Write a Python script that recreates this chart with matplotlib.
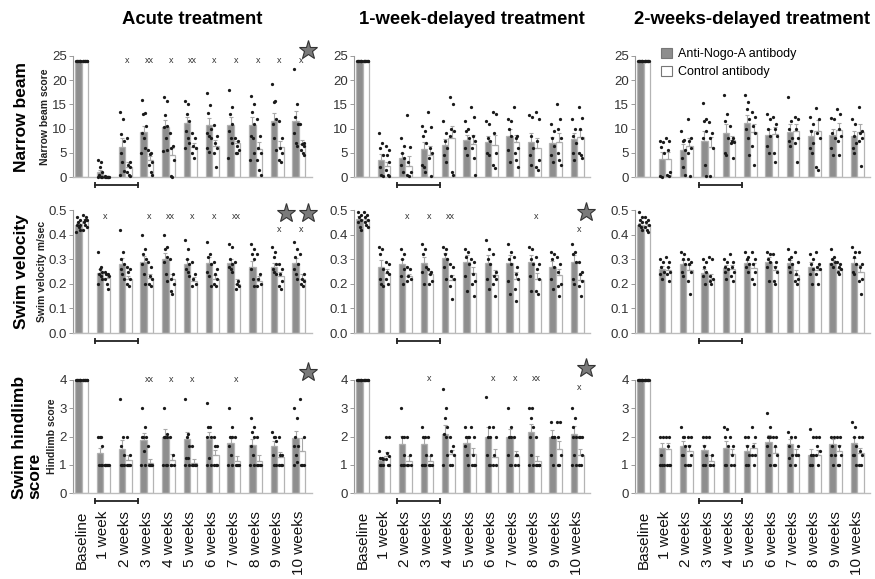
import matplotlib
matplotlib.use('Agg')
import matplotlib.pyplot as plt
import numpy as np
from matplotlib.patches import Patch
import matplotlib.transforms as mtrans

plt.rcParams['font.family'] = ['Liberation Sans', 'DejaVu Sans']

# ---------------- data ----------------
groups = ["Baseline", "1 week", "2 weeks", "3 weeks", "4 weeks", "5 weeks",
          "6 weeks", "7 weeks", "8 weeks", "9 weeks", "10 weeks"]
treatments = ["Acute treatment", "1-week-delayed treatment", "2-weeks-delayed treatment"]
row_titles = ["Narrow beam", "Swim velocity", "Swim hindlimb\nscore"]
row_ylabels = ["Narrow beam score", "Swim velocity m/sec", "Hindlimb score"]
legend_labels = ["Anti-Nogo-A antibody", "Control antibody"]

# Narrow beam (bar means)
beam_acute_anti = [24, 1.0, 6.3, 9.2, 10.3, 11.1, 10.8, 10.8, 10.8, 11.5, 11.6]
beam_acute_ctrl = [24, 0.2, 2.0, 3.5, 4.5, 6.2, 6.4, 7.0, 5.8, 6.2, 6.8]
beam_w1_anti = [24, 3.5, 3.9, 5.8, 6.6, 7.6, 7.2, 8.5, 7.3, 7.0, 7.9]
beam_w1_ctrl = [24, 2.2, 2.3, 4.5, 8.1, 6.8, 6.6, 7.2, 6.0, 7.3, 8.2]
beam_w2_anti = [24, 3.8, 5.5, 7.4, 9.0, 11.2, 8.7, 9.4, 8.4, 8.6, 8.4]
beam_w2_ctrl = [24, 3.7, 6.5, 6.3, 7.6, 9.2, 8.9, 9.6, 9.6, 9.8, 9.3]

# Swim velocity (bar means)
vel_acute_anti = [0.44, 0.245, 0.28, 0.29, 0.30, 0.28, 0.285, 0.285, 0.27, 0.27, 0.285]
vel_acute_ctrl = [0.455, 0.225, 0.22, 0.225, 0.22, 0.21, 0.22, 0.20, 0.21, 0.23, 0.22]
vel_w1_anti = [0.465, 0.27, 0.28, 0.285, 0.305, 0.29, 0.285, 0.285, 0.29, 0.27, 0.29]
vel_w1_ctrl = [0.455, 0.245, 0.23, 0.24, 0.215, 0.245, 0.235, 0.22, 0.22, 0.235, 0.215]
vel_w2_anti = [0.44, 0.26, 0.28, 0.245, 0.265, 0.285, 0.29, 0.285, 0.27, 0.285, 0.285]
vel_w2_ctrl = [0.435, 0.255, 0.255, 0.22, 0.26, 0.265, 0.255, 0.235, 0.255, 0.255, 0.25]

# Swim hindlimb score (bar means)
hind_acute_anti = [4, 1.42, 1.55, 1.87, 2.0, 1.9, 1.9, 1.78, 1.7, 1.67, 1.95]
hind_acute_ctrl = [4, 1.0, 1.17, 1.07, 1.17, 1.07, 1.35, 1.12, 1.13, 1.28, 1.48]
hind_w1_anti = [4, 1.17, 1.72, 1.72, 2.1, 1.77, 2.0, 2.0, 2.15, 2.0, 2.1]
hind_w1_ctrl = [4, 1.3, 1.12, 1.12, 1.37, 1.37, 1.27, 1.3, 1.12, 1.55, 1.35]
hind_w2_anti = [4, 1.58, 1.67, 1.52, 1.6, 1.5, 1.82, 1.72, 1.35, 1.75, 1.78]
hind_w2_ctrl = [4, 1.55, 1.5, 1.15, 1.37, 1.58, 1.43, 1.37, 1.35, 1.5, 1.42]

# individual animals (dots), one list per bar
beam_acute_anti_dots = [[24]*8, [3.5, 3.0, 2.0, 1.0, 0.5, 0, 0, 0],
    [13.4, 12.0, 8.8, 7.5, 5.0, 3.0, 1.2, 0.5], [15.9, 13.3, 13.0, 10.5, 9.0, 8.0, 6.0, 5.0],
    [16.6, 15.6, 12.8, 10.5, 10.3, 8.0, 5.5, 5.4], [15.6, 15.0, 13.0, 11.5, 9.5, 8.0, 7.0, 6.0],
    [17.3, 14.8, 13.3, 10.0, 9.0, 8.5, 8.0, 6.0, 5.2], [18.0, 14.5, 13.0, 11.0, 9.5, 8.0, 7.0, 4.0],
    [16.8, 15.0, 13.5, 11.0, 8.5, 8.0, 5.0, 3.5], [19.3, 15.6, 15.5, 12.0, 11.0, 8.0, 5.5],
    [22.3, 15.0, 12.5, 11.0, 9.0, 7.0, 6.5]]
beam_acute_ctrl_dots = [[24]*8, [0.1, 0, 0, 0, 0.2, 0, 0],
    [8.1, 3.0, 2.5, 2.0, 1.0, 0.5, 0.2], [5.5, 5.0, 4.8, 3.0, 2.5, 1.0, 0.5],
    [9.0, 6.5, 6.0, 3.5, 0.2, 0.1], [9.0, 8.0, 6.5, 6.0, 5.0, 4.0],
    [10.8, 8.5, 7.0, 6.0, 5.0, 2.0], [8.0, 7.5, 6.5, 5.5, 5.0, 5.0],
    [12.0, 8.5, 6.0, 5.0, 3.5, 1.5, 0.5], [11.5, 8.0, 6.0, 5.0, 3.5, 3.0],
    [11.0, 7.0, 6.8, 6.5, 5.5, 5.0, 4.5]]
beam_w1_anti_dots = [[24]*8, [9.0, 7.0, 6.0, 4.5, 2.0, 0.5, 0.2],
    [8.0, 6.5, 5.0, 4.0, 2.5, 1.0], [10.5, 9.5, 8.5, 7.0, 2.5, 2.0, 1.0],
    [11.5, 9.0, 7.5, 6.0, 4.5, 3.0], [11.5, 10.0, 9.5, 8.0, 6.0, 4.5],
    [11.5, 11.0, 8.0, 7.5, 5.0, 4.5], [12.0, 11.5, 10.0, 8.5, 5.5, 3.0],
    [12.8, 12.3, 8.5, 6.0, 4.5, 2.5], [11.0, 9.5, 8.0, 6.5, 4.5, 3.0],
    [12.0, 10.0, 8.5, 7.0, 5.0, 3.5]]
beam_w1_ctrl_dots = [[24]*8, [6.5, 5.5, 4.5, 3.0, 1.5, 0.5, 0.2],
    [12.8, 6.3, 3.0, 1.0, 0.5, 0.2], [13.4, 10.3, 6.0, 5.0, 4.0, 0.2],
    [16.5, 15.0, 10.0, 9.5, 8.5, 1.0, 0.5], [14.5, 12.3, 8.5, 7.5, 6.0, 4.0, 0.5],
    [13.5, 13.0, 9.0, 5.0, 2.5, 1.8], [14.5, 8.5, 8.0, 6.0, 5.0, 3.5, 2.0],
    [13.5, 12.0, 7.5, 3.5, 2.0, 1.5], [15.0, 12.0, 10.0, 8.0, 5.0, 3.5, 2.5],
    [14.5, 12.2, 10.0, 8.0, 5.0, 4.5, 4.0]]
beam_w2_anti_dots = [[24]*8, [7.5, 7.3, 6.3, 5.0, 0.2, 0.1],
    [9.5, 7.6, 7.5, 5.5, 4.0, 2.0, 0.5], [15.2, 12.0, 11.5, 9.5, 8.0, 2.5, 0.2],
    [17.0, 13.0, 11.5, 8.0, 5.0, 4.5], [17.0, 15.5, 14.0, 12.0, 10.0, 8.0, 4.5],
    [13.0, 12.0, 10.0, 8.5, 6.5, 5.0], [16.5, 11.5, 10.0, 8.0, 7.5, 6.5],
    [12.5, 11.0, 9.5, 7.0, 6.0, 5.0], [12.2, 12.0, 9.0, 8.0, 6.0, 4.5],
    [12.0, 11.0, 8.5, 7.0, 6.0, 5.0]]
beam_w2_ctrl_dots = [[24]*8, [8.0, 7.5, 5.5, 1.0, 0.5, 0.2],
    [12.0, 8.0, 7.5, 6.0, 5.0, 0.2], [11.3, 9.0, 8.0, 6.0, 0.2],
    [10.5, 8.0, 7.5, 7.3, 7.0, 4.0], [13.5, 12.5, 10.5, 9.0, 6.5, 2.5],
    [12.5, 11.0, 10.0, 8.5, 5.0, 3.0], [12.5, 12.0, 10.0, 8.0, 7.0, 3.0],
    [14.3, 12.0, 9.0, 8.0, 2.0, 1.5], [14.0, 13.0, 10.0, 8.5, 7.5, 4.5],
    [14.5, 9.5, 9.0, 8.0, 7.5, 2.3]]

vel_acute_anti_dots = [[0.47, 0.46, 0.45, 0.44, 0.44, 0.43, 0.42, 0.41],
    [0.33, 0.27, 0.26, 0.25, 0.24, 0.23, 0.22, 0.20], [0.42, 0.33, 0.30, 0.28, 0.26, 0.24, 0.22],
    [0.40, 0.34, 0.32, 0.30, 0.28, 0.24, 0.20], [0.40, 0.35, 0.34, 0.31, 0.29, 0.24, 0.21],
    [0.38, 0.34, 0.30, 0.28, 0.26, 0.25, 0.23], [0.37, 0.32, 0.31, 0.28, 0.25, 0.23, 0.19],
    [0.36, 0.35, 0.30, 0.28, 0.27, 0.26, 0.25], [0.36, 0.34, 0.32, 0.30, 0.26, 0.22, 0.19],
    [0.35, 0.33, 0.31, 0.28, 0.26, 0.25, 0.24], [0.37, 0.34, 0.31, 0.28, 0.26, 0.24, 0.22]]
vel_acute_ctrl_dots = [[0.48, 0.47, 0.46, 0.46, 0.45, 0.44, 0.43, 0.42],
    [0.25, 0.24, 0.24, 0.23, 0.22, 0.20, 0.18], [0.27, 0.26, 0.25, 0.22, 0.20, 0.19],
    [0.29, 0.27, 0.23, 0.22, 0.20, 0.19], [0.30, 0.24, 0.22, 0.20, 0.17, 0.16],
    [0.29, 0.24, 0.22, 0.20, 0.19], [0.29, 0.26, 0.24, 0.22, 0.20, 0.19],
    [0.29, 0.21, 0.20, 0.19, 0.18], [0.32, 0.24, 0.22, 0.20, 0.19],
    [0.28, 0.26, 0.24, 0.21, 0.19, 0.18], [0.32, 0.24, 0.22, 0.21, 0.20, 0.19]]
vel_w1_anti_dots = [[0.49, 0.48, 0.47, 0.46, 0.45, 0.43, 0.42],
    [0.35, 0.34, 0.32, 0.26, 0.22, 0.20, 0.19], [0.34, 0.32, 0.30, 0.26, 0.23, 0.20],
    [0.36, 0.34, 0.32, 0.27, 0.25, 0.20], [0.35, 0.34, 0.32, 0.30, 0.27, 0.22],
    [0.34, 0.33, 0.31, 0.28, 0.23, 0.17], [0.38, 0.34, 0.30, 0.28, 0.22, 0.18],
    [0.36, 0.33, 0.30, 0.28, 0.21, 0.16], [0.35, 0.34, 0.30, 0.28, 0.23, 0.17],
    [0.33, 0.32, 0.30, 0.27, 0.22, 0.18], [0.36, 0.33, 0.32, 0.29, 0.22, 0.20]]
vel_w1_ctrl_dots = [[0.49, 0.48, 0.47, 0.46, 0.45, 0.44, 0.43],
    [0.29, 0.28, 0.25, 0.24, 0.22, 0.20], [0.27, 0.26, 0.23, 0.22, 0.21],
    [0.26, 0.25, 0.24, 0.21, 0.20], [0.28, 0.27, 0.23, 0.22, 0.19, 0.14],
    [0.30, 0.29, 0.24, 0.21, 0.20, 0.15], [0.32, 0.25, 0.23, 0.22, 0.20, 0.15],
    [0.31, 0.27, 0.24, 0.22, 0.18, 0.13], [0.31, 0.28, 0.26, 0.22, 0.17, 0.16],
    [0.31, 0.28, 0.25, 0.20, 0.19, 0.15], [0.29, 0.25, 0.24, 0.21, 0.19, 0.15]]
vel_w2_anti_dots = [[0.49, 0.47, 0.46, 0.45, 0.44, 0.43, 0.42],
    [0.30, 0.29, 0.27, 0.25, 0.24, 0.22], [0.33, 0.32, 0.30, 0.28, 0.25, 0.23],
    [0.30, 0.29, 0.27, 0.25, 0.23, 0.20], [0.30, 0.29, 0.27, 0.26, 0.25, 0.22],
    [0.33, 0.31, 0.30, 0.28, 0.27, 0.25], [0.33, 0.32, 0.30, 0.29, 0.27, 0.21],
    [0.34, 0.31, 0.30, 0.28, 0.27, 0.25], [0.32, 0.30, 0.28, 0.26, 0.24, 0.20],
    [0.34, 0.31, 0.30, 0.29, 0.28, 0.27], [0.35, 0.33, 0.31, 0.28, 0.25, 0.24]]
vel_w2_ctrl_dots = [[0.47, 0.46, 0.45, 0.44, 0.43, 0.42, 0.41],
    [0.31, 0.29, 0.27, 0.25, 0.24, 0.21], [0.30, 0.29, 0.28, 0.25, 0.21, 0.16],
    [0.31, 0.30, 0.23, 0.22, 0.21, 0.20], [0.32, 0.29, 0.27, 0.25, 0.23, 0.21],
    [0.33, 0.30, 0.28, 0.25, 0.22, 0.20], [0.32, 0.29, 0.27, 0.25, 0.21, 0.20],
    [0.33, 0.29, 0.24, 0.22, 0.21, 0.20], [0.33, 0.28, 0.27, 0.26, 0.24, 0.20],
    [0.29, 0.28, 0.27, 0.26, 0.25, 0.24], [0.33, 0.28, 0.27, 0.22, 0.21, 0.16]]

hind_acute_anti_dots = [[4]*8, [2, 2, 2, 1.67, 1, 1, 1], [3.33, 2, 1.67, 1.33, 1, 1, 1],
    [3, 2.33, 2, 2, 2, 1.5, 1, 1], [3, 2.1, 2, 2, 2, 1, 1, 1],
    [3.33, 2.1, 2, 1.67, 1.25, 1.25, 1, 1], [3.17, 2.33, 2.33, 2, 2, 1.25, 1, 1],
    [3, 2.33, 2, 2, 1.67, 1.33, 1, 1], [2.67, 2.33, 2.17, 2, 1.67, 1.33, 1, 1],
    [2.17, 2, 2, 1.83, 1.33, 1, 1], [3, 2.67, 2, 1.67, 1.67, 1.33, 1.1, 1]]
hind_acute_ctrl_dots = [[4]*8, [1, 1, 1, 1, 1, 1], [2, 1.33, 1, 1, 1, 1],
    [1.67, 1, 1, 1, 1], [2, 1.33, 1, 1, 1], [1.67, 1, 1, 1, 1],
    [2, 1.67, 1.67, 1, 1, 1], [2, 1, 1, 1, 1], [2, 1, 1, 1, 1],
    [2, 1.33, 1.33, 1, 1, 1], [3.33, 2, 1, 1, 1]]
hind_w1_anti_dots = [[4]*8, [1.5, 1.25, 1.25, 1.2, 1, 1, 1], [3, 2, 2, 1.33, 1, 1, 1],
    [2.33, 2, 2, 1.33, 1, 1, 1], [3.67, 3, 2.67, 2.33, 2.1, 2, 1.33, 1],
    [2.33, 2, 2, 2, 1.67, 1.33, 1], [3.4, 2.33, 2, 2, 1.33, 1, 1],
    [3, 2.33, 2, 2, 1.33, 1, 1], [3, 3, 2.67, 2.33, 2, 1.33, 1, 1],
    [2.5, 2, 2, 2, 1.33, 1], [3, 2.67, 2.33, 2, 2, 1.33, 1, 1]]
hind_w1_ctrl_dots = [[4]*8, [2, 2, 1.4, 1.3, 1.2, 1, 1], [2, 1.33, 1, 1, 1],
    [2, 1.33, 1, 1, 1], [2, 1.67, 1.5, 1.33, 1, 1], [2.33, 2, 1.33, 1, 1, 1],
    [2.33, 2, 1.33, 1, 1], [2, 1.33, 1.33, 1, 1], [2, 1, 1, 1, 1],
    [2.5, 2.5, 2, 1.33, 1, 1], [2, 2, 2, 1.33, 1, 1]]
hind_w2_anti_dots = [[4]*8, [2, 2, 1.33, 1, 1, 1], [2.33, 2, 2, 1.67, 1.33, 1.33, 1],
    [2, 2, 1.67, 1.33, 1, 1], [2.33, 2.25, 2, 1.67, 1, 1], [2, 2, 1.67, 1.33, 1, 1],
    [2.83, 2.33, 2, 2, 1.67, 1.33, 1], [2.17, 2, 1.67, 1.33, 1.25, 1],
    [2.25, 2, 1.33, 1.33, 1, 1], [2, 2, 1.67, 1.33, 1.33, 1], [2.5, 2.33, 2, 1.67, 1.33, 1.33, 1]]
hind_w2_ctrl_dots = [[4]*8, [2, 2, 1.67, 1, 1, 1], [2, 2, 1.67, 1.33, 1, 1],
    [2, 1.33, 1, 1, 1], [2, 1.67, 1.33, 1, 1], [2.33, 2, 1.67, 1.33, 1.33, 1],
    [2, 2, 1.67, 1.33, 1, 1], [2, 1.67, 1.33, 1.33, 1], [2, 2, 1.67, 1.5, 1.33, 1],
    [2, 2, 1.67, 1.33, 1, 1], [2, 2, 1.5, 1.33, 1, 1]]

# significance marks: (group, label, y)
beam_acute_sig = [(2, 'x', 24), (3, 'xx', 24), (4, 'x', 24), (5, 'xx', 24), (6, 'x', 24),
                  (7, 'x', 24), (8, 'x', 24), (9, 'x', 24), (10, 'x', 24)]
vel_acute_sig = [(1, 'x', 0.473), (3, 'x', 0.473), (4, 'xx', 0.473), (5, 'x', 0.473),
                 (6, 'x', 0.473), (7, 'xx', 0.473), (9, 'x', 0.42), (10, 'x', 0.42)]
vel_w1_sig = [(2, 'x', 0.473), (3, 'x', 0.473), (4, 'xx', 0.473), (8, 'x', 0.473), (10, 'x', 0.42)]
hind_acute_sig = [(3, 'xx', 4.0), (4, 'x', 4.0), (5, 'x', 4.0), (7, 'x', 4.0)]
hind_w1_sig = [(3, 'x', 4.05), (6, 'x', 4.05), (7, 'x', 4.05), (8, 'xx', 4.05), (10, 'x', 3.72)]
# stars: (group, y)
beam_acute_star = [(10, 26.2)]
vel_acute_star = [(9, 0.488), (10, 0.488)]
vel_w1_star = [(10, 0.49)]
hind_acute_star = [(10, 4.28)]
hind_w1_star = [(10, 4.42)]
# treatment-period bracket start group per column
bracket_start = [0.6, 1.6, 2.6]

panels = [
    [(beam_acute_anti, beam_acute_ctrl, beam_acute_anti_dots, beam_acute_ctrl_dots, beam_acute_sig, beam_acute_star),
     (beam_w1_anti, beam_w1_ctrl, beam_w1_anti_dots, beam_w1_ctrl_dots, [], []),
     (beam_w2_anti, beam_w2_ctrl, beam_w2_anti_dots, beam_w2_ctrl_dots, [], [])],
    [(vel_acute_anti, vel_acute_ctrl, vel_acute_anti_dots, vel_acute_ctrl_dots, vel_acute_sig, vel_acute_star),
     (vel_w1_anti, vel_w1_ctrl, vel_w1_anti_dots, vel_w1_ctrl_dots, vel_w1_sig, vel_w1_star),
     (vel_w2_anti, vel_w2_ctrl, vel_w2_anti_dots, vel_w2_ctrl_dots, [], [])],
    [(hind_acute_anti, hind_acute_ctrl, hind_acute_anti_dots, hind_acute_ctrl_dots, hind_acute_sig, hind_acute_star),
     (hind_w1_anti, hind_w1_ctrl, hind_w1_anti_dots, hind_w1_ctrl_dots, hind_w1_sig, hind_w1_star),
     (hind_w2_anti, hind_w2_ctrl, hind_w2_anti_dots, hind_w2_ctrl_dots, [], [])],
]
ylims = [25, 0.5, 4]
yticks = [np.arange(0, 26, 5), np.arange(0, 0.51, 0.1), np.arange(0, 5, 1)]
yfmt = ['{:.0f}', '{:.1f}', '{:.0f}']

# ---------------- layout (pixels) ----------------
W, H = 875, 579
col_left = [73, 354, 635]
col_w = [239, 236, 235]
row_top = [56, 210, 380]
row_bot = [177, 333, 493]

GRAY = '#8e8e8e'
EDGE = '#b4b4b4'
offs = [-0.08, 0.06, -0.02, 0.09, -0.06, 0.02, 0.08, -0.10, 0.0]

fig = plt.figure(figsize=(W / 100, H / 100), dpi=100)
bw = 0.3
x = np.arange(len(groups))

for r in range(3):
    for c in range(3):
        anti, ctrl, adots, cdots, sig, stars = panels[r][c]
        ax = fig.add_axes([col_left[c] / W, 1 - row_bot[r] / H, col_w[c] / W, (row_bot[r] - row_top[r]) / H])
        for vals, dots, dx, fc in [(anti, adots, -bw / 2, GRAY), (ctrl, cdots, bw / 2, 'white')]:
            ax.bar(x + dx, vals, bw, color=fc, edgecolor=EDGE, linewidth=0.9, zorder=2)
            sem = np.array([np.std(d, ddof=1) / np.sqrt(len(d)) for d in dots])
            ax.errorbar(x + dx, vals, yerr=[np.zeros(len(vals)), sem], fmt='none',
                        ecolor='#a8a8a8', elinewidth=0.8, capsize=1.6, capthick=0.8, zorder=3)
            xs, ys = [], []
            for gi, d in enumerate(dots):
                for k, v in enumerate(d):
                    xs.append(gi + dx + offs[k % len(offs)])
                    ys.append(v)
            ax.scatter(xs, ys, s=5.5, c='#1a1a1a', linewidths=0, zorder=4, clip_on=False)
        for g, lab, yv in sig:
            ax.text(g + 0.1, yv, lab, ha='center', va='center', fontsize=6.5, color='#333333',
                    zorder=5, clip_on=False)
        for g, yv in stars:
            ax.plot([g + 0.4], [yv], marker='*', markersize=14, markerfacecolor='#7a7a7a',
                    markeredgecolor='#333333', markeredgewidth=0.8, clip_on=False, zorder=6)
        ax.set_xlim(-0.4, 10.6)
        ax.set_ylim(0, ylims[r])
        ax.set_yticks(yticks[r])
        ax.set_yticklabels([yfmt[r].format(t) for t in yticks[r]])
        for s in ['top', 'right']:
            ax.spines[s].set_visible(False)
        ax.spines['left'].set_color('#9a9a9a')
        ax.spines['left'].set_linewidth(0.8)
        ax.spines['bottom'].set_color('#bdbdbd')
        ax.spines['bottom'].set_linewidth(1.0)
        ax.tick_params(axis='y', length=3, width=0.7, color='#9a9a9a', labelsize=9.5,
                       labelcolor='#333333', pad=1.5)
        ax.tick_params(axis='x', length=0)
        if r == 2:
            ax.set_xticks(x)
            ax.set_xticklabels(groups, rotation=90, fontsize=11, color='#111111')
            ax.tick_params(axis='x', pad=13)
        else:
            ax.set_xticks([])
        # treatment-period bracket
        trans = mtrans.blended_transform_factory(ax.transData, ax.transAxes)
        yb = -7.5 / (row_bot[r] - row_top[r])
        b0 = bracket_start[c]
        ax.plot([b0, b0 + 2], [yb, yb], transform=trans, color='#222222', lw=1.3,
                clip_on=False, marker='|', markersize=5, markeredgewidth=1.3)
        if r == 0 and c == 2:
            handles = [Patch(facecolor=GRAY, edgecolor='#777777', linewidth=0.8),
                       Patch(facecolor='white', edgecolor='#777777', linewidth=0.8)]
            ax.legend(handles, legend_labels, loc='upper left', bbox_to_anchor=(0.1, 1.09),
                      frameon=False, fontsize=9, handlelength=0.85, handleheight=0.85,
                      handletextpad=0.5, labelspacing=0.45, borderaxespad=0, borderpad=0.2)
        if r == 0:
            fig.text((col_left[c] + col_w[c] / 2) / W, 1 - 20 / H, treatments[c],
                     ha='center', va='center', fontsize=13.3, fontweight='bold')
        if c == 0:
            yc = 1 - (row_top[r] + row_bot[r]) / 2 / H
            if r < 2:
                fig.text(22 / W, yc, row_titles[r], rotation=90, ha='center', va='center',
                         fontsize=12.5, fontweight='bold')
            else:
                fig.text(27 / W, 1 - 437 / H, row_titles[r], rotation=90, ha='center', va='center',
                         fontsize=12.5, fontweight='bold', multialignment='left', linespacing=1.0)
            ylx = [45, 42, 52][r]
            fig.text(ylx / W, yc, row_ylabels[r], rotation=90, ha='center', va='center',
                     fontsize=7.5, fontweight='bold', color='#222222')

fig.savefig('out.png', dpi=100)
